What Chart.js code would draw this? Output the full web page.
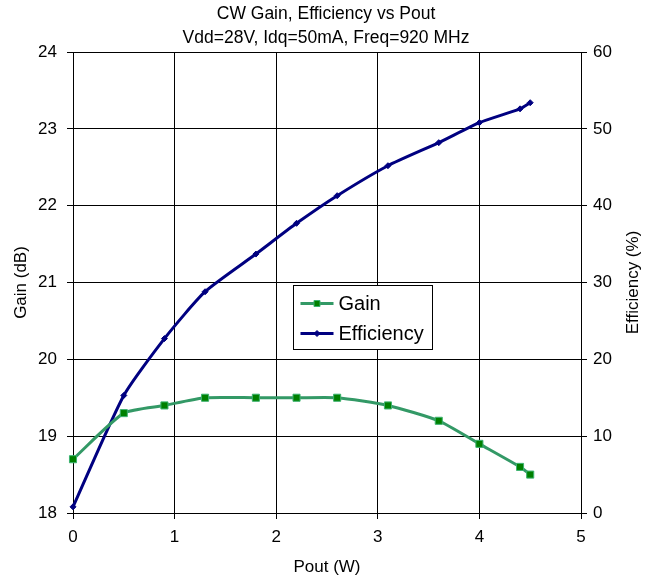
<!DOCTYPE html>
<html>
<head>
<meta charset="utf-8">
<script src="https://cdn.jsdelivr.net/npm/chart.js@4.4.1/dist/chart.umd.min.js"></script>
<style>
  html, body { margin: 0; padding: 0; background: #fff; }
  #wrap { width: 652px; height: 583px; position: relative; }
</style>
</head>
<body>
<div id="wrap"><canvas id="c" width="652" height="583"></canvas></div>
<script>
// values
const poutW = [0, 0.5, 0.9, 1.3, 1.8, 2.2, 2.6, 3.1, 3.6, 4.0, 4.4, 4.5]
const gainDb = [18.7, 19.3, 19.4, 19.5, 19.5, 19.5, 19.5, 19.4, 19.2, 18.9, 18.6, 18.5]
const efficiencyPct = [0.8, 15.3, 22.7, 28.8, 33.7, 37.7, 41.3, 45.2, 48.2, 50.8, 52.6, 53.4]

const titleLines = ['CW Gain, Efficiency vs Pout', 'Vdd=28V, Idq=50mA, Freq=920 MHz']
const rightTitle = 'Efficiency (%)'
const FONT = "'Liberation Sans', Arial, sans-serif"

const toPoints = (xs, ys) => xs.map((x, i) => ({ x, y: ys[i] }))

// legend box inside the plot plus the right axis title (reads bottom to top)
const boxLegend = {
  id: 'boxLegend',
  afterDraw(chart) {
    const { ctx, chartArea: a } = chart
    const w = a.right - a.left
    const h = a.bottom - a.top
    const x0 = Math.round(a.left + w * 0.433) + 0.5
    const y0 = Math.round(a.top + h * 0.505) + 0.5
    const bw = 139
    const bh = 64
    ctx.save()
    ctx.fillStyle = '#fff'
    ctx.fillRect(x0, y0, bw, bh)
    ctx.strokeStyle = '#000'
    ctx.lineWidth = 1
    ctx.strokeRect(x0, y0, bw, bh)
    ctx.font = '20px ' + FONT
    ctx.textBaseline = 'middle'
    chart.data.datasets.forEach((ds, i) => {
      const y = y0 + 18 + i * 30
      ctx.strokeStyle = ds.borderColor
      ctx.lineWidth = 3
      ctx.beginPath()
      ctx.moveTo(x0 + 7, y)
      ctx.lineTo(x0 + 40, y)
      ctx.stroke()
      ctx.fillStyle = ds.pointBackgroundColor
      ctx.strokeStyle = ds.pointBorderColor
      ctx.lineWidth = ds.pointBorderWidth
      ctx.beginPath()
      if (ds.pointStyle === 'rect') {
        ctx.rect(x0 + 20.5, y - 3, 6, 6)
      } else {
        ctx.moveTo(x0 + 23.5, y - 3)
        ctx.lineTo(x0 + 26.5, y)
        ctx.lineTo(x0 + 23.5, y + 3)
        ctx.lineTo(x0 + 20.5, y)
        ctx.closePath()
      }
      ctx.fill()
      ctx.stroke()
      ctx.fillStyle = '#000'
      ctx.fillText(ds.label, x0 + 45, y + 1)
    })

    ctx.translate(633, (a.top + a.bottom) / 2)
    ctx.rotate(-Math.PI / 2)
    ctx.font = '17px ' + FONT
    ctx.textAlign = 'center'
    ctx.textBaseline = 'middle'
    ctx.fillText(rightTitle, 0, 0)
    ctx.restore()
  },
}

const axisGrid = { color: '#000', lineWidth: 1, tickLength: 6, tickColor: '#000' }

new Chart(document.getElementById('c'), {
  type: 'scatter',
  data: {
    datasets: [
      {
        label: 'Gain',
        data: toPoints(poutW, gainDb),
        yAxisID: 'y',
        showLine: true,
        clip: false,
        tension: 0.2,
        borderColor: '#339966',
        borderWidth: 3,
        pointStyle: 'rect',
        pointRadius: 5,
        pointBackgroundColor: '#008000',
        pointBorderColor: '#3cb371',
        pointBorderWidth: 1,
      },
      {
        label: 'Efficiency',
        data: toPoints(poutW, efficiencyPct),
        yAxisID: 'y2',
        showLine: true,
        clip: false,
        tension: 0.2,
        borderColor: '#000080',
        borderWidth: 3,
        pointStyle: 'rectRot',
        pointRadius: 3,
        pointBackgroundColor: '#000080',
        pointBorderColor: '#000080',
        pointBorderWidth: 1,
      },
    ],
  },
  options: {
    responsive: false,
    animation: false,
    layout: { padding: 0 },
    plugins: {
      legend: { display: false },
      tooltip: { enabled: false },
      title: {
        display: true,
        text: titleLines,
        color: '#000',
        font: { family: FONT, size: 17.5, weight: 'normal', lineHeight: 24 / 17.5 },
        padding: { top: 2, bottom: 2 },
      },
    },
    scales: {
      x: {
        type: 'linear',
        min: 0,
        max: 5,
        ticks: { stepSize: 1, color: '#000', padding: 8, font: { family: FONT, size: 17 } },
        grid: axisGrid,
        border: { color: '#000', width: 1 },
        title: { display: true, text: 'Pout (W)', color: '#000', font: { family: FONT, size: 17 }, padding: { top: 0, bottom: 5 } },
        afterFit(scale) { scale.height = 70 },
      },
      y: {
        position: 'left',
        min: 18,
        max: 24,
        ticks: { stepSize: 1, color: '#000', padding: 10, font: { family: FONT, size: 17 } },
        grid: axisGrid,
        border: { color: '#000', width: 1 },
        title: { display: true, text: 'Gain (dB)', color: '#000', font: { family: FONT, size: 17 }, padding: { top: 11, bottom: 0 } },
        afterFit(scale) { scale.width = 73 },
      },
      y2: {
        position: 'right',
        min: 0,
        max: 60,
        ticks: { stepSize: 10, color: '#000', padding: 6, font: { family: FONT, size: 17 } },
        grid: { ...axisGrid, drawOnChartArea: false },
        border: { color: '#000', width: 1 },
        afterFit(scale) { scale.width = 71 },
      },
    },
  },
  plugins: [boxLegend],
})
</script>
</body>
</html>
